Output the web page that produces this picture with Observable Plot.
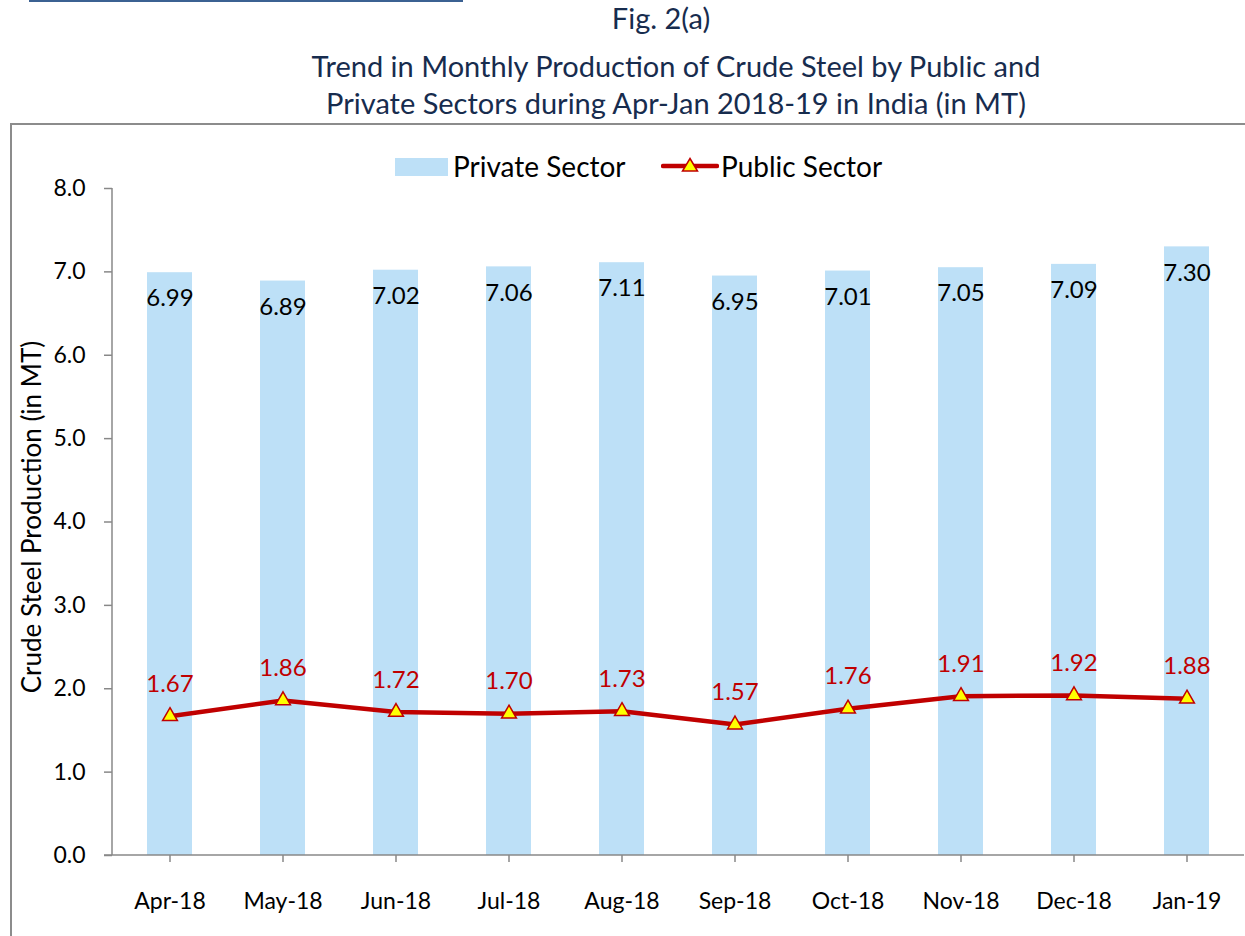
<!DOCTYPE html>
<html><head><meta charset="utf-8">
<script src="https://cdn.jsdelivr.net/npm/d3@7"></script>
<script src="https://cdn.jsdelivr.net/npm/@observablehq/plot@0.6"></script>
<style>
body{margin:0;width:1245px;height:936px;overflow:hidden;background:#fff;font-family:Lato,"Open Sans",sans-serif;position:relative}
#topline{position:absolute;left:29px;top:0;width:434px;height:2px;background:#3b6192}
.title{position:absolute;left:0;width:1352px;text-align:center;color:#172c4e;font-size:29px;line-height:34px;white-space:nowrap}
#frame{position:absolute;left:10px;top:123px;width:1300px;height:900px;border:2px solid #8c8c8c;box-sizing:border-box}
#chart{position:absolute;left:0;top:124px}
#legend{position:absolute;left:0;top:148px;height:36px;width:1245px;font-size:28px;color:#000}
#legend .item{position:absolute;top:0;line-height:36px;white-space:nowrap}
#ytitle{position:absolute;left:31px;top:517px;transform:translate(-50%,-50%) rotate(-90deg);font-size:26px;white-space:nowrap;color:#000}
</style></head><body>
<div id="topline"></div>
<div class="title" style="top:1px;width:1322px">Fig. 2(a)</div>
<div class="title" style="top:49px">Trend in Monthly Production of Crude Steel by Public and</div>
<div class="title" style="top:86px">Private Sectors during Apr-Jan 2018-19 in India (in MT)</div>
<div id="frame"></div>
<div id="chart"></div>
<div id="legend">
  <svg class="item" style="left:395px;top:10px" width="53" height="18"><rect x="0" y="0" width="53" height="18" fill="#bde0f7"/></svg>
  <div class="item" style="left:453px">Private Sector</div>
  <svg class="item" style="left:661px;top:8px" width="58" height="20"><line x1="2" y1="10" x2="56" y2="10" stroke="#c00000" stroke-width="4.5" stroke-linecap="round"/><path d="M29,2.5 L36.5,15 L21.5,15 Z" fill="#ffff00" stroke="#c00000" stroke-width="1.5"/></svg>
  <div class="item" style="left:721px">Public Sector</div>
</div>
<div id="ytitle">Crude Steel Production (in MT)</div>
<script>
const months = ["Apr-18","May-18","Jun-18","Jul-18","Aug-18","Sep-18","Oct-18","Nov-18","Dec-18","Jan-19"];
const privateSector = [6.99, 6.89, 7.02, 7.06, 7.11, 6.95, 7.01, 7.05, 7.09, 7.30];
const publicSector = [1.67, 1.86, 1.72, 1.70, 1.73, 1.57, 1.76, 1.91, 1.92, 1.88];
const yTicks = [0, 1, 2, 3, 4, 5, 6, 7, 8];

const data = months.map((m, i) => ({month: m, priv: privateSector[i], pub: publicSector[i]}));

const axisLines = (index, scales, values, dims) => {
  const g = d3.create("svg:g");
  const x0 = dims.marginLeft, y0 = dims.height - dims.marginBottom, yTop = dims.marginTop;
  g.append("line").attr("x1", x0).attr("x2", x0).attr("y1", yTop).attr("y2", y0)
    .attr("stroke", "#888").attr("stroke-width", 1.5);
  g.append("line").attr("x1", x0 - 8).attr("x2", dims.width - dims.marginRight).attr("y1", y0).attr("y2", y0)
    .attr("stroke", "#888").attr("stroke-width", 1.5);
  return g.node();
};

const chart = Plot.plot({
  width: 1245,
  height: 812,
  marginTop: 64,
  marginBottom: 81,
  marginLeft: 112,
  marginRight: 1,
  style: {fontFamily: "Lato, 'Open Sans', sans-serif", background: "transparent", color: "#000"},
  x: {domain: months, paddingInner: 0.6, paddingOuter: 0.3, label: null},
  y: {domain: [0, 8], label: null},
  marks: [
    Plot.barY(data, {x: "month", y: "priv", fill: "#bde0f7"}),
    Plot.text(data, {x: "month", y: "priv", text: d => d.priv.toFixed(2), dy: 26, fontSize: 24, fill: "#000"}),
    Plot.line(data, {x: "month", y: "pub", stroke: "#c00000", strokeWidth: 4.5}),
    Plot.dot(data, {x: "month", y: "pub", symbol: "triangle", r: 5.5, fill: "#ffff00", stroke: "#c00000", strokeWidth: 1.5}),
    Plot.text(data, {x: "month", y: "pub", text: d => d.pub.toFixed(2), dy: -32, fontSize: 24, fill: "#c00000"}),
    Plot.axisY({ticks: yTicks, tickSize: 8, text: null, stroke: "#888", strokeWidth: 1.5}),
    Plot.axisY({ticks: yTicks, tickSize: 0, tickPadding: 27, tickFormat: d3.format(".1f"), fontSize: 23, fill: "#000", label: null}),
    Plot.axisX({tickSize: 7, text: null, stroke: "#888", strokeWidth: 1.5}),
    Plot.axisX({tickSize: 0, tickPadding: 37, fontSize: 23, fill: "#000", label: null}),
    axisLines
  ]
});
document.getElementById("chart").appendChild(chart);
</script>
</body></html>
